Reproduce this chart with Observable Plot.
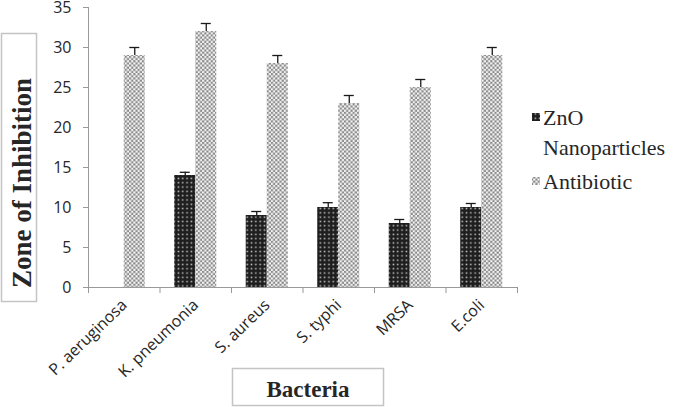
<!DOCTYPE html>
<html><head><meta charset="utf-8">
<script src="https://cdn.jsdelivr.net/npm/d3@7"></script>
<script src="https://cdn.jsdelivr.net/npm/@observablehq/plot@0.6"></script>
<style>
body{margin:0;background:#fff;}
#wrap{position:relative;width:685px;height:407px;overflow:hidden;background:#fff;}
#wrap svg{position:absolute;left:0;top:0;}
#wrap svg text{fill:#262626;}
</style></head><body><div id="wrap"></div>
<script>
const bacteria = ["P. aeruginosa", "K. pneumonia", "S. aureus", "S. typhi", "MRSA", "E.coli"];
const seriesNames = ["ZnO Nanoparticles", "Antibiotic"];
const znoValues = [0, 14, 9, 10, 8, 10];
const znoErrors = [0, 0.4, 0.5, 0.6, 0.5, 0.5];
const antibioticValues = [29, 32, 28, 23, 25, 29];
const antibioticErrors = [1, 1, 1, 1, 1, 1];
const yTicks = [0, 5, 10, 15, 20, 25, 30, 35];
const yTitle = "Zone of Inhibition";
const xTitle = "Bacteria";
const legendLines = [["ZnO", "Nanoparticles"], ["Antibiotic"]];

// grouped-bar layout (fractions of one category step)
const groupStart = 0.206, barW = 0.294, capHalf = 0.07;

const rows = [];
bacteria.forEach((b, i) => {
  rows.push({b, s: seriesNames[0], value: znoValues[i], err: znoErrors[i], x1: i + groupStart, x2: i + groupStart + barW});
  rows.push({b, s: seriesNames[1], value: antibioticValues[i], err: antibioticErrors[i], x1: i + groupStart + barW, x2: i + groupStart + 2 * barW});
});
rows.forEach(r => { r.cx = (r.x1 + r.x2) / 2; r.top = r.value + r.err; });
const errRows = rows.filter(r => r.value > 0 && r.err > 0);
const boundaries = d3.range(bacteria.length + 1);
const labelTicks = bacteria.map((b, i) => i + 0.5);

const plot = Plot.plot({
  width: 685, height: 407,
  marginLeft: 88, marginRight: 168, marginTop: 7, marginBottom: 120,
  style: {fontFamily: "Open Sans", fontSize: "16px", color: "#999", background: "transparent"},
  x: {domain: [0, bacteria.length], ticks: labelTicks, tickFormat: t => bacteria[Math.floor(t)], tickSize: 0, tickPadding: 15, tickRotate: -44, label: null},
  y: {domain: [0, 35], ticks: yTicks, tickSize: 5, tickPadding: 12, label: null},
  color: {domain: seriesNames, range: ["url(#znoPat)", "url(#abPat)"]},
  marks: [
    Plot.rectY(rows, {x1: "x1", x2: "x2", y1: 0, y2: "value", fill: "s"}),
    Plot.ruleX(errRows, {x: "cx", y1: "value", y2: "top", stroke: "#1a1a1a", strokeWidth: 1.3}),
    Plot.ruleY(errRows, {y: "top", x1: d => d.cx - capHalf, x2: d => d.cx + capHalf, stroke: "#1a1a1a", strokeWidth: 1.3}),
    Plot.ruleX([0], {stroke: "#999"}),
    Plot.ruleY([0], {stroke: "#999"}),
    Plot.ruleX(boundaries, {x: d => d, y1: 0, y2: -0.75, stroke: "#999"})
  ]
});

const svg = d3.select(plot);
const defs = svg.insert("defs", ":first-child");
const p1 = defs.append("pattern").attr("id", "znoPat").attr("patternUnits", "userSpaceOnUse").attr("width", 4.3).attr("height", 4.3);
p1.append("rect").attr("width", 4.3).attr("height", 4.3).attr("fill", "#1e1e1e");
p1.append("rect").attr("x", 1.4).attr("y", 1.4).attr("width", 1.5).attr("height", 1.5).attr("fill", "#c8c8c8");
const p2 = defs.append("pattern").attr("id", "abPat").attr("patternUnits", "userSpaceOnUse").attr("width", 4.3).attr("height", 4.3);
p2.append("rect").attr("width", 4.3).attr("height", 4.3).attr("fill", "#f4f4f4");
p2.append("rect").attr("x", 0).attr("y", 0).attr("width", 2.15).attr("height", 2.15).attr("fill", "#8a8a8a");
p2.append("rect").attr("x", 2.15).attr("y", 2.15).attr("width", 2.15).attr("height", 2.15).attr("fill", "#8a8a8a");

const wrap = document.getElementById("wrap");

// overlay: titles in boxes, legend
const ov = d3.create("svg").attr("width", 685).attr("height", 407);
ov.append("defs").html(defs.html());
ov.append("rect").attr("x", 1.5).attr("y", 33.5).attr("width", 35).attr("height", 268).attr("fill", "none").attr("stroke", "#c4c4c4").attr("stroke-width", 1.5);
ov.append("text").attr("transform", "translate(31,183) rotate(-90)").attr("text-anchor", "middle")
  .attr("font-family", "Liberation Serif").attr("font-weight", "bold").attr("font-size", 27).text(yTitle);
ov.append("rect").attr("x", 232.5).attr("y", 368.5).attr("width", 151).attr("height", 37).attr("fill", "none").attr("stroke", "#c4c4c4").attr("stroke-width", 1.5);
ov.append("text").attr("x", 308).attr("y", 397).attr("text-anchor", "middle")
  .attr("font-family", "Liberation Serif").attr("font-weight", "bold").attr("font-size", 23).text(xTitle);

const legendTop = [125, 189];
legendLines.forEach((lines, k) => {
  ov.append("rect").attr("x", 532).attr("y", legendTop[k] - 12).attr("width", 8).attr("height", 8)
    .attr("fill", k === 0 ? "url(#znoPat)" : "url(#abPat)");
  lines.forEach((t, j) => {
    ov.append("text").attr("x", 543).attr("y", legendTop[k] + j * 30)
      .attr("font-family", "Liberation Serif").attr("font-size", 22).text(t);
  });
});

wrap.appendChild(ov.node());
wrap.appendChild(plot);
</script>
</body></html>
